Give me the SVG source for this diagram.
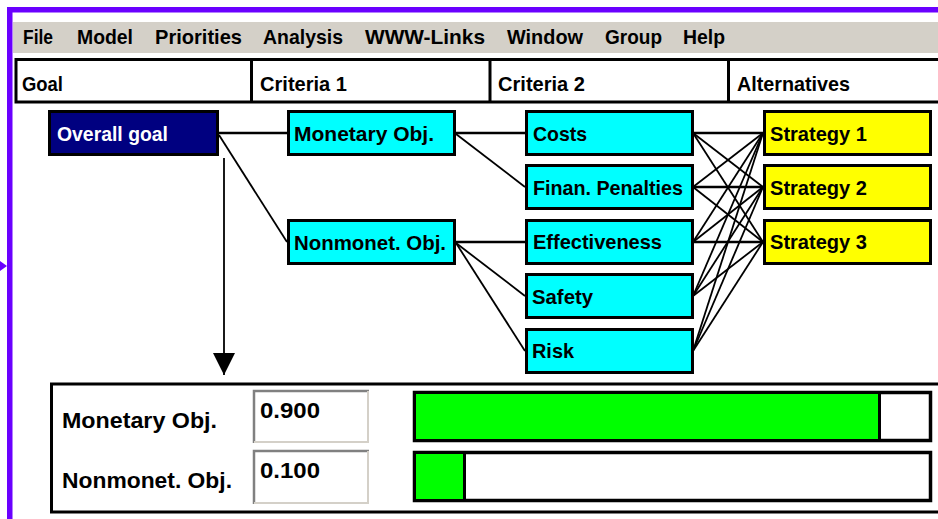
<svg xmlns="http://www.w3.org/2000/svg" width="938" height="519" viewBox="0 0 938 519">
<style>
text{font-family:"Liberation Sans",Arial,sans-serif;font-weight:bold;font-size:21px;fill:#000}
.node rect{stroke:#000;stroke-width:3}
.c2 rect,.c1 rect{fill:#00ffff}
.alt rect{fill:#ffff00}
.conn line{stroke:#000;stroke-width:1.8}
.conn line.h{stroke-width:2.5}
.big{font-size:22px}
</style>
<defs>
<marker id="ah" markerWidth="22" markerHeight="22" refX="22" refY="11" orient="auto" markerUnits="userSpaceOnUse" viewBox="0 0 22 22">
<path d="M0,0 L22,11 L0,22 Z" fill="#000"/>
</marker>
</defs>
<rect width="938" height="519" fill="#fff"/>
<!-- purple frame -->
<rect x="7" y="7" width="931" height="5.5" fill="#6a00ff"/>
<rect x="7" y="7" width="5.5" height="512" fill="#6a00ff"/>
<polygon points="0,261 7,266 0,271" fill="#6a00ff"/>
<!-- menu bar -->
<rect x="13" y="22" width="925" height="31" fill="#d4d0c8"/>
<g id="menu">
<text x="23" y="44" textLength="30" lengthAdjust="spacingAndGlyphs">File</text>
<text x="77" y="44" textLength="56" lengthAdjust="spacingAndGlyphs">Model</text>
<text x="155" y="44" textLength="87" lengthAdjust="spacingAndGlyphs">Priorities</text>
<text x="263" y="44" textLength="80" lengthAdjust="spacingAndGlyphs">Analysis</text>
<text x="365" y="44" textLength="120" lengthAdjust="spacingAndGlyphs">WWW-Links</text>
<text x="507" y="44" textLength="76" lengthAdjust="spacingAndGlyphs">Window</text>
<text x="605" y="44" textLength="57" lengthAdjust="spacingAndGlyphs">Group</text>
<text x="683" y="44" textLength="42" lengthAdjust="spacingAndGlyphs">Help</text>
</g>
<!-- header row -->
<g id="header">
<rect x="16" y="59.5" width="930" height="42.5" fill="#fff" stroke="#000" stroke-width="3"/>
<line x1="251.5" y1="59" x2="251.5" y2="102" stroke="#000" stroke-width="3"/>
<line x1="490" y1="59" x2="490" y2="102" stroke="#000" stroke-width="3"/>
<line x1="728.5" y1="59" x2="728.5" y2="102" stroke="#000" stroke-width="3"/>
<text x="22" y="91" textLength="41" lengthAdjust="spacingAndGlyphs">Goal</text>
<text x="260" y="91" textLength="87" lengthAdjust="spacingAndGlyphs">Criteria 1</text>
<text x="498" y="91" textLength="87" lengthAdjust="spacingAndGlyphs">Criteria 2</text>
<text x="737" y="91" textLength="113" lengthAdjust="spacingAndGlyphs">Alternatives</text>
</g>
<!-- connectors -->
<g id="connectors" class="conn">
<line class="h" x1="218" y1="133" x2="287" y2="133"/>
<line x1="219" y1="135" x2="287" y2="242"/>
<line class="h" x1="455" y1="133" x2="525" y2="133"/>
<line x1="456" y1="134" x2="525" y2="187"/>
<line class="h" x1="455" y1="242" x2="525" y2="242"/>
<line x1="456" y1="243" x2="525" y2="296"/>
<line x1="456" y1="243" x2="525" y2="351"/>
<line class="h" x1="693" y1="133" x2="763" y2="133"/>
<line x1="693" y1="133" x2="763" y2="187"/>
<line x1="693" y1="133" x2="763" y2="242"/>
<line x1="693" y1="187" x2="763" y2="133"/>
<line class="h" x1="693" y1="187" x2="763" y2="187"/>
<line x1="693" y1="187" x2="763" y2="242"/>
<line x1="693" y1="242" x2="763" y2="133"/>
<line x1="693" y1="242" x2="763" y2="187"/>
<line class="h" x1="693" y1="242" x2="763" y2="242"/>
<line x1="693" y1="296" x2="763" y2="133"/>
<line x1="693" y1="296" x2="763" y2="187"/>
<line x1="693" y1="296" x2="763" y2="242"/>
<line x1="693" y1="351" x2="763" y2="133"/>
<line x1="693" y1="351" x2="763" y2="187"/>
<line x1="693" y1="351" x2="763" y2="242"/>
<line x1="224" y1="158" x2="224" y2="375" stroke-width="2.2" marker-end="url(#ah)"/>
</g>
<!-- nodes -->
<g id="overall-goal" class="node">
<rect x="49.5" y="111.5" width="168" height="43" fill="#000080"/>
<text x="57" y="141" style="fill:#fff" textLength="111" lengthAdjust="spacingAndGlyphs">Overall goal</text>
</g>
<g id="monetary" class="node c1">
<rect x="288.5" y="111.5" width="166" height="43"/>
<text x="294" y="141" textLength="140" lengthAdjust="spacingAndGlyphs">Monetary Obj.</text>
</g>
<g id="nonmonet" class="node c1">
<rect x="288.5" y="220.5" width="166" height="43"/>
<text x="294" y="250" textLength="152" lengthAdjust="spacingAndGlyphs">Nonmonet. Obj.</text>
</g>
<g id="costs" class="node c2">
<rect x="526.5" y="111.5" width="166" height="43"/>
<text x="533" y="141" textLength="54" lengthAdjust="spacingAndGlyphs">Costs</text>
</g>
<g id="finan" class="node c2">
<rect x="526.5" y="165.5" width="166" height="43"/>
<text x="533" y="195" textLength="150" lengthAdjust="spacingAndGlyphs">Finan. Penalties</text>
</g>
<g id="effectiveness" class="node c2">
<rect x="526.5" y="220.5" width="166" height="43"/>
<text x="533" y="249" textLength="129" lengthAdjust="spacingAndGlyphs">Effectiveness</text>
</g>
<g id="safety" class="node c2">
<rect x="526.5" y="274.5" width="166" height="43"/>
<text x="532" y="304" textLength="61" lengthAdjust="spacingAndGlyphs">Safety</text>
</g>
<g id="risk" class="node c2">
<rect x="526.5" y="329.5" width="166" height="43"/>
<text x="532" y="358" textLength="42" lengthAdjust="spacingAndGlyphs">Risk</text>
</g>
<g id="strategy1" class="node alt">
<rect x="764.5" y="111.5" width="166" height="43"/>
<text x="770" y="141" textLength="97" lengthAdjust="spacingAndGlyphs">Strategy 1</text>
</g>
<g id="strategy2" class="node alt">
<rect x="764.5" y="165.5" width="166" height="43"/>
<text x="770" y="195" textLength="97" lengthAdjust="spacingAndGlyphs">Strategy 2</text>
</g>
<g id="strategy3" class="node alt">
<rect x="764.5" y="220.5" width="166" height="43"/>
<text x="770" y="249" textLength="97" lengthAdjust="spacingAndGlyphs">Strategy 3</text>
</g>
<!-- priorities panel -->
<g id="panel">
<path d="M51.5,512 V384 H938 M50,512 H938" fill="none" stroke="#000" stroke-width="3"/>
<text class="big" x="62" y="428" textLength="155" lengthAdjust="spacingAndGlyphs">Monetary Obj.</text>
<text class="big" x="62" y="488" textLength="170" lengthAdjust="spacingAndGlyphs">Nonmonet. Obj.</text>
<rect x="253" y="390" width="116" height="53" fill="#fff"/>
<path d="M254,443 V391 H369" fill="none" stroke="#808080" stroke-width="2.5"/>
<path d="M254,442 H368 V391" fill="none" stroke="#d4d0c8" stroke-width="2"/>
<text class="big" x="260" y="418" textLength="60" lengthAdjust="spacingAndGlyphs">0.900</text>
<rect x="253" y="450" width="116" height="54" fill="#fff"/>
<path d="M254,504 V451 H369" fill="none" stroke="#808080" stroke-width="2.5"/>
<path d="M254,503 H368 V451" fill="none" stroke="#d4d0c8" stroke-width="2"/>
<text class="big" x="260" y="478" textLength="60" lengthAdjust="spacingAndGlyphs">0.100</text>
<rect x="414.5" y="392.5" width="516" height="48" fill="#fff" stroke="#000" stroke-width="3.5"/>
<rect x="416" y="394" width="463" height="45" fill="#00ff00"/>
<line x1="879.5" y1="392" x2="879.5" y2="441" stroke="#000" stroke-width="3"/>
<rect x="414.5" y="452.5" width="516" height="48" fill="#fff" stroke="#000" stroke-width="3.5"/>
<rect x="416" y="454" width="48" height="45" fill="#00ff00"/>
<line x1="464.5" y1="452" x2="464.5" y2="501" stroke="#000" stroke-width="3"/>
</g>
</svg>
